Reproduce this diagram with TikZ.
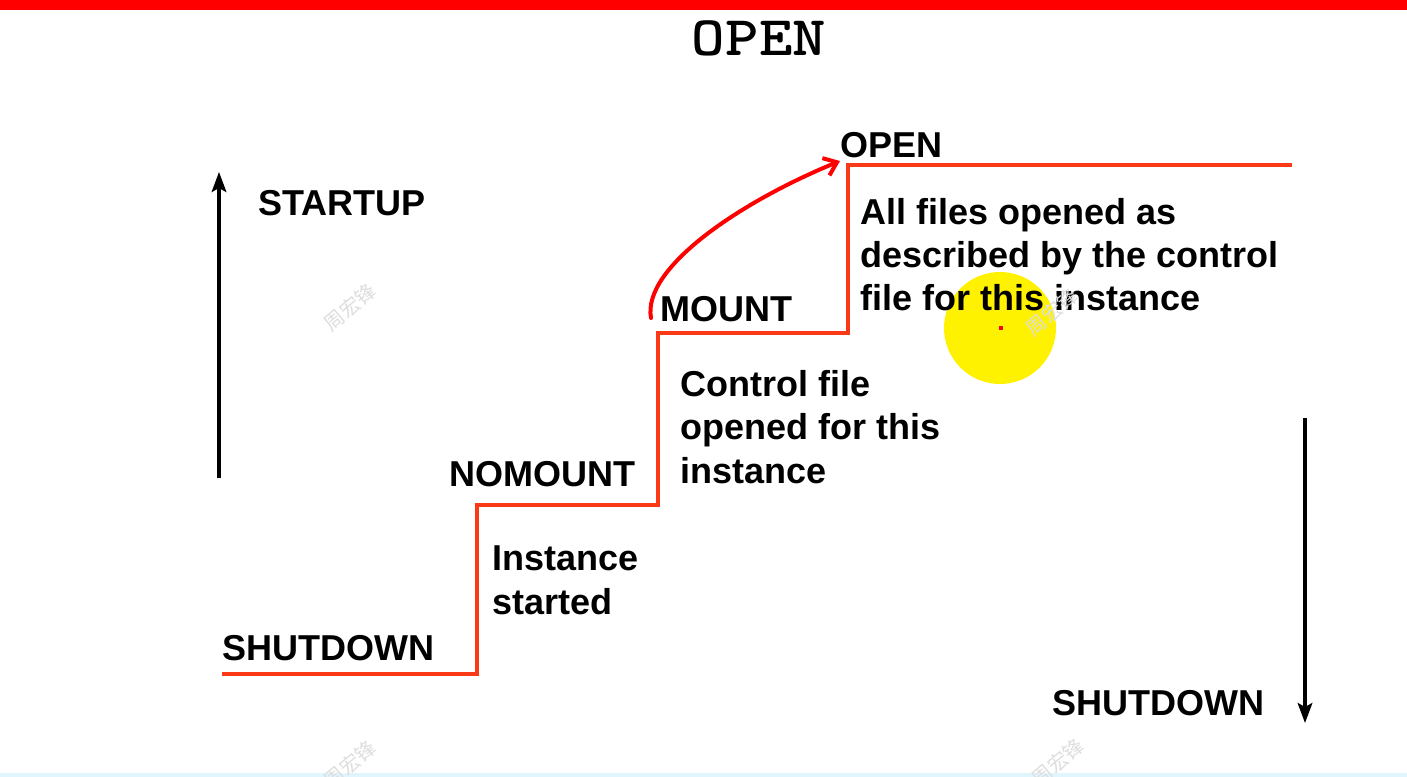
\documentclass[tikz,border=0pt]{standalone}
\usepackage{fontspec}
\setmainfont{Liberation Sans}
\newfontfamily\cjk{Noto Sans CJK SC}
\usetikzlibrary{arrows.meta}
\definecolor{stairred}{RGB}{250,58,22}
\definecolor{barred}{RGB}{255,0,0}
\definecolor{markgray}{RGB}{222,222,222}
\tikzset{
  lbl/.style={anchor=base west, inner sep=0pt, font=\fontsize{27pt}{32.6pt}\selectfont\bfseries, align=left},
  stair/.style={draw=stairred, line width=3pt, line join=miter},
  flow/.style={draw=black, line width=2.3pt, -{Stealth[length=15pt,width=11pt,inset=3pt]}},
  wmark/.style={text=markgray, font=\cjk\fontsize{15pt}{15pt}\selectfont, rotate=40, inner sep=0pt},
}
\begin{document}
\begin{tikzpicture}[x=0.75pt,y=-0.75pt]
\useasboundingbox (0,0) rectangle (1407,777);
\fill[white] (0,0) rectangle (1407,777);
% top bar and bottom edge
\fill[barred] (0,0) rectangle (1407,10);
\fill[cyan!12] (0,773) rectangle (1407,777);

% title
\node[inner sep=0pt, anchor=base, xscale=1.14, font=\ttfamily\bfseries\fontsize{42pt}{42pt}\selectfont] (title) at (759,56) {OPEN};

% pointer highlight
\fill[yellow] (1000,328) circle (56);
\fill[red] (998.5,326.5) rectangle (1002.5,330.5);

% staircase
\coordinate (s0) at (222,674);
\coordinate (s1) at (477,674);
\coordinate (s2) at (477,505);
\coordinate (s3) at (658,505);
\coordinate (s4) at (658,333);
\coordinate (s5) at (848,333);
\coordinate (s6) at (848,165);
\coordinate (s7) at (1292,165);
\draw[stair] (s0) -- (s1) -- (s2) -- (s3) -- (s4) -- (s5) -- (s6) -- (s7);

% direction arrows
\coordinate (upfrom) at (219,478);
\coordinate (upto) at (219,172);
\draw[flow] (upfrom) -- (upto);
\coordinate (downfrom) at (1305,418);
\coordinate (downto) at (1305,723);
\draw[flow] (downfrom) -- (downto);

% state labels
\node[lbl] (startup) at (258,216) {STARTUP};
\node[lbl] (shutA) at (222,660) {SHUTDOWN};
\node[lbl] (nomount) at (449,486) {NOMOUNT};
\node[lbl] (mount) at (660,322) {MOUNT};
\node[lbl] (openlbl) at (840,158) {OPEN};
\node[lbl] (shutB) at (1052,715) {SHUTDOWN};

% descriptions (anchored at the baseline of the last line)
\node[lbl] (d1) at (492,614) {Instance\\started};
\node[lbl] (d2) at (680,483) {Control file\\opened for this\\instance};
\node[lbl] (d3) at (860,311) {All files opened as\\described by the control\\file for this instance};

% hand-drawn pointer from MOUNT to OPEN
\coordinate (curvefrom) at (651,318);
\draw[draw=red, line width=3pt, line cap=round, -{Straight Barb[length=9pt,width=14pt,line width=3pt]}]
  (curvefrom) .. controls (642,268) and (740,202) .. (openlbl.west |- 0,161);

% watermarks
\node[wmark] (w1) at (350,307) {周宏锋};
\node[wmark] (w2) at (1052,312) {周宏锋};
\node[wmark] (w3) at (350,764) {周宏锋};
\node[wmark] (w4) at (1058,762) {周宏锋};
\end{tikzpicture}
\end{document}
